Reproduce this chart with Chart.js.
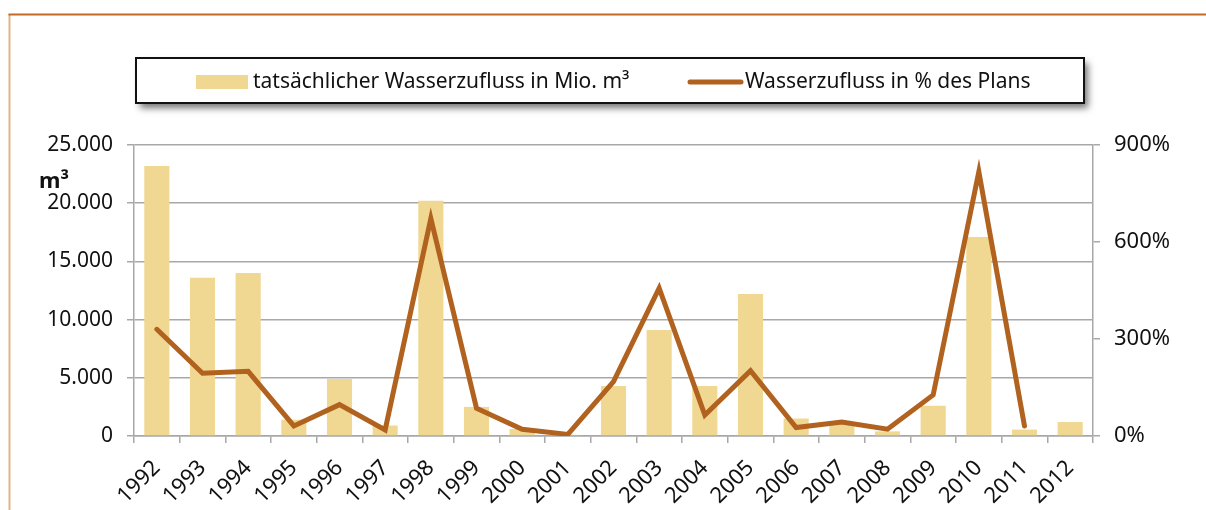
<!DOCTYPE html>
<html>
<head>
<meta charset="utf-8">
<script src="https://cdn.jsdelivr.net/npm/chart.js@4/dist/chart.umd.min.js"></script>
<style>
  html, body { margin: 0; padding: 0; background: #fff; }
  #wrap { position: relative; width: 1206px; height: 510px; }
</style>
</head>
<body>
<div id="wrap"><canvas id="c" width="1206" height="510"></canvas></div>
<script>
const years = ['1992','1993','1994','1995','1996','1997','1998','1999','2000','2001','2002','2003','2004','2005','2006','2007','2008','2009','2010','2011','2012'];
const inflowMio = [23200, 13600, 14000, 1400, 4900, 900, 20200, 2500, 600, 100, 4300, 9100, 4300, 12200, 1500, 1100, 400, 2600, 17100, 550, 1200];
const inflowPct = [330, 194, 200, 31, 97, 19, 673, 86, 21, 5, 168, 457, 65, 202, 26, 43, 21, 127, 817, 31, null];
const leftTicks = [0, 5000, 10000, 15000, 20000, 25000];
const rightTicks = [0, 300, 600, 900];
const barLabel = 'tatsächlicher Wasserzufluss in Mio. m³';
const lineLabel = 'Wasserzufluss in % des Plans';
const unitLabel = 'm³';

const FONT = '"Noto Sans", "Open Sans", sans-serif';
const BAR_COLOR = '#F0D792';
const LINE_COLOR = '#B1621F';
const GRID = '#A8A8A8';

const framePlugin = {
  id: 'frame',
  beforeDraw(chart) {
    const ctx = chart.ctx;
    ctx.save();
    ctx.fillStyle = '#fff';
    ctx.fillRect(0, 0, chart.width, chart.height);
    ctx.lineWidth = 2;
    ctx.strokeStyle = '#E2B48C';
    ctx.beginPath(); ctx.moveTo(9.5, 14); ctx.lineTo(9.5, chart.height); ctx.stroke();
    ctx.strokeStyle = '#C46A28';
    ctx.beginPath(); ctx.moveTo(8.5, 14.5); ctx.lineTo(chart.width, 14.5); ctx.stroke();
    ctx.restore();
  },
  afterDraw(chart) {
    const ctx = chart.ctx;
    const barDs = chart.data.datasets.find(d => d.type === 'bar');
    const lineDs = chart.data.datasets.find(d => d.type === 'line');
    ctx.save();
    const bx = 136, by = 58, bw = 948, bh = 45;
    ctx.shadowColor = 'rgba(0,0,0,0.55)';
    ctx.shadowBlur = 7;
    ctx.shadowOffsetX = 4;
    ctx.shadowOffsetY = 5;
    ctx.fillStyle = '#fff';
    ctx.fillRect(bx, by, bw, bh);
    ctx.shadowColor = 'transparent';
    ctx.lineWidth = 2;
    ctx.strokeStyle = '#111';
    ctx.strokeRect(bx, by, bw, bh);
    ctx.fillStyle = BAR_COLOR;
    ctx.fillRect(196, 75, 52, 14);
    ctx.fillStyle = '#111';
    ctx.font = '21px ' + FONT;
    ctx.textBaseline = 'middle';
    ctx.textAlign = 'left';
    ctx.fillText(barDs.label, 253, 82);
    ctx.strokeStyle = LINE_COLOR;
    ctx.lineWidth = 5;
    ctx.lineCap = 'round';
    ctx.beginPath(); ctx.moveTo(690, 82); ctx.lineTo(741, 82); ctx.stroke();
    ctx.fillText(lineDs.label, 745, 82);
    ctx.font = 'bold 22px ' + FONT;
    ctx.textBaseline = 'alphabetic';
    ctx.fillText(unitLabel, 39, 188);
    ctx.restore();
  }
};

new Chart(document.getElementById('c'), {
  data: {
    labels: years,
    datasets: [
      { type: 'bar', label: barLabel, data: inflowMio, yAxisID: 'y', backgroundColor: BAR_COLOR, borderWidth: 0,
        barPercentage: 0.55, categoryPercentage: 1, order: 1 },
      { type: 'line', label: lineLabel, data: inflowPct, yAxisID: 'y2', borderColor: LINE_COLOR, backgroundColor: LINE_COLOR,
        borderWidth: 5, pointRadius: 0, tension: 0, order: 0, borderCapStyle: 'round', spanGaps: false }
    ]
  },
  options: {
    responsive: false,
    animation: false,
    layout: { padding: { top: 145, left: 0, right: 0, bottom: 0 } },
    plugins: { legend: { display: false }, tooltip: { enabled: false }, title: { display: false } },
    scales: {
      x: {
        offset: true,
        grid: { offset: true, drawOnChartArea: false, color: GRID, lineWidth: 1.5, tickLength: 7, tickColor: GRID },
        border: { color: GRID, width: 1.5 },
        ticks: { color: '#111', font: { family: FONT, size: 22 }, minRotation: 45, maxRotation: 45, padding: 12, autoSkip: false },
        afterFit(s) { s.height = 74; }
      },
      y: {
        position: 'left',
        min: 0, max: 25000,
        afterBuildTicks(s) { s.ticks = leftTicks.map(v => ({ value: v })); },
        grid: { color: GRID, lineWidth: 1.5, tickLength: 7, tickColor: GRID },
        border: { color: GRID, width: 1.5 },
        ticks: { color: '#111', font: { family: FONT, size: 21 }, padding: 14,
          callback: v => v === 0 ? '0' : v.toLocaleString('de-DE') },
        afterFit(s) { s.width = 134; }
      },
      y2: {
        position: 'right',
        min: 0, max: 900,
        afterBuildTicks(s) { s.ticks = rightTicks.map(v => ({ value: v })); },
        grid: { drawOnChartArea: false, color: GRID, lineWidth: 1.5, tickLength: 7, tickColor: GRID },
        border: { color: GRID, width: 1.5 },
        ticks: { color: '#111', font: { family: FONT, size: 22 }, padding: 14, callback: v => v + '%' },
        afterFit(s) { s.width = 113; }
      }
    }
  },
  plugins: [framePlugin]
});
</script>
</body>
</html>
